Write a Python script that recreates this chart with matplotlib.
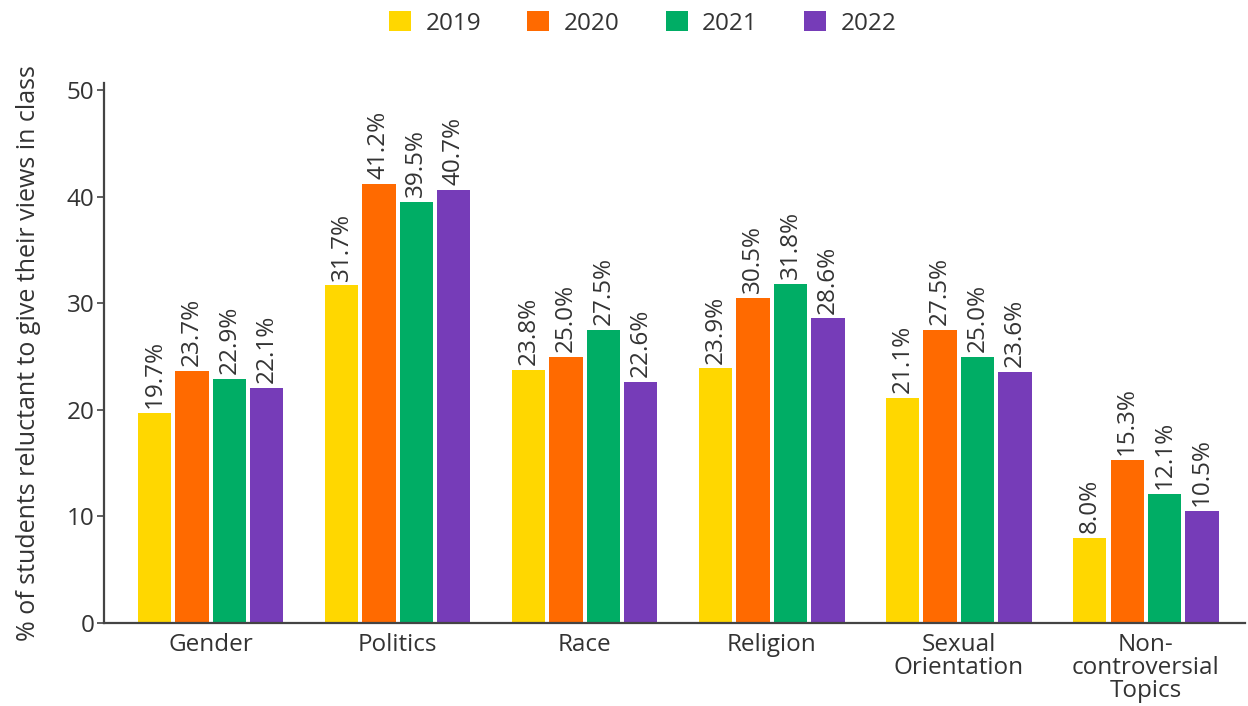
import matplotlib.pyplot as plt
import numpy as np

# Topics and share of students reluctant to speak, per survey year
topics = ["Gender", "Politics", "Race", "Religion", "Sexual\nOrientation",
          "Non-\ncontroversial\nTopics"]
years = ["2019", "2020", "2021", "2022"]
v2019 = [19.7, 31.7, 23.8, 23.9, 21.1, 8.0]
v2020 = [23.7, 41.2, 25.0, 30.5, 27.5, 15.3]
v2021 = [22.9, 39.5, 27.5, 31.8, 25.0, 12.1]
v2022 = [22.1, 40.7, 22.6, 28.6, 23.6, 10.5]
y_ticks = [0, 10, 20, 30, 40, 50]

COLORS = ["#FFD700", "#FF6A00", "#00AD65", "#763CB8"]
TEXT = "#333333"
AXIS = "#444444"
FS = 17.5

plt.rcParams["font.family"] = ["Open Sans", "DejaVu Sans"]

fig = plt.figure(figsize=(12.48, 7.06), dpi=100)
ax = fig.add_axes([104 / 1248, 83 / 706, 1141 / 1248, 540 / 706])

x = np.arange(len(topics))
step = 0.2
width = 0.178
series = [v2019, v2020, v2021, v2022]
for i, (vals, year, col) in enumerate(zip(series, years, COLORS)):
    pos = x + (i - 1.5) * step
    bars = ax.bar(pos, vals, width, color=col, label=year, zorder=2)
    for b, v in zip(bars, vals):
        ax.annotate(f"{v:.1f}%", (b.get_x() + b.get_width() / 2, v),
                    xytext=(0, 3.5), textcoords="offset points",
                    rotation=90, ha="center", va="bottom",
                    fontsize=FS, color=TEXT)

ax.set_xlim(-0.57, 5.53)
ax.set_ylim(0, 50.7)
ax.set_yticks(y_ticks)
ax.set_xticks(x)
ax.set_xticklabels(topics, fontsize=FS, color=TEXT, linespacing=0.95)
ax.tick_params(axis="x", length=0, pad=7)
ax.tick_params(axis="y", length=5, width=1.2, color=AXIS, labelsize=FS,
               labelcolor=TEXT, pad=2)

for side in ["top", "right"]:
    ax.spines[side].set_visible(False)
for side in ["left", "bottom"]:
    ax.spines[side].set_color(AXIS)
    ax.spines[side].set_linewidth(1.6)

ax.set_ylabel("% of students reluctant to give their views in class",
              fontsize=18, color=TEXT, labelpad=18)

fig.legend(loc="upper center", bbox_to_anchor=(0.515, 1.015), ncol=4,
           frameon=False, fontsize=FS, handlelength=0.9, handleheight=0.9,
           handletextpad=0.6, columnspacing=1.9, labelcolor=TEXT)

fig.savefig("out.png", dpi=100, facecolor="white")
